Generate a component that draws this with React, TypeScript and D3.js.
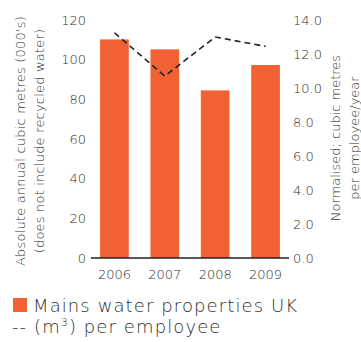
import React from "react";
import * as d3 from "d3";

const years = ["2006", "2007", "2008", "2009"];
const mainsWater = [110.2, 105.2, 84.5, 97.3];
const perEmployee = [13.25, 10.7, 13.0, 12.45];
const leftTicks = [0, 20, 40, 60, 80, 100, 120];
const rightTicks = [0, 2, 4, 6, 8, 10, 12, 14];

const W = 361;
const H = 342;
const FONT = "'DejaVu Sans', 'Open Sans', sans-serif";
const TEXT = "#2e2e2e";
const ORANGE = "#F26134";

export default function App() {
  const x = d3.scaleBand<string>().domain(years).range([90, 290]).paddingInner(0.43).paddingOuter(0.2);
  const yL = d3.scaleLinear().domain([0, 120]).range([258, 20]);
  const yR = d3.scaleLinear().domain([0, 14]).range([258, 20]);
  const line = d3
    .line<number>()
    .x((_, i) => (x(years[i]) as number) + x.bandwidth() / 2)
    .y((d) => yR(d));

  return (
    <svg
      width={W}
      height={H}
      style={{ position: "absolute", left: 0, top: 0, background: "#fff" }}
      fontFamily={FONT}
      fontWeight={200}
    >
      {/* left axis title */}
      <text
        transform={`translate(25,141) rotate(-90)`}
        textAnchor="middle"
        fontSize={13}
        letterSpacing={0.2}
        fill={TEXT}
      >
        Absolute  annual cubic metres (000's)
      </text>
      <text
        transform={`translate(44,141) rotate(-90)`}
        textAnchor="middle"
        fontSize={13}
        letterSpacing={0.2}
        fill={TEXT}
      >
        (does not include recycled water)
      </text>
      {/* right axis title */}
      <text
        transform={`translate(340,138) rotate(-90)`}
        textAnchor="middle"
        fontSize={13}
        fill={TEXT}
      >
        Normalised; cubic metres
      </text>
      <text
        transform={`translate(359,138) rotate(-90)`}
        textAnchor="middle"
        fontSize={13}
        fill={TEXT}
      >
        per employee/year
      </text>

      {leftTicks.map((t) => (
        <text key={t} x={86} y={yL(t)} dy="0.35em" textAnchor="end" fontSize={13} fill={TEXT}>
          {t}
        </text>
      ))}
      {rightTicks.map((t) => (
        <text key={t} x={293} y={yR(t)} dy="0.35em" textAnchor="start" fontSize={13} fill={TEXT}>
          {t.toFixed(1)}
        </text>
      ))}

      {mainsWater.map((v, i) => (
        <rect
          key={years[i]}
          x={x(years[i])}
          y={yL(v)}
          width={x.bandwidth()}
          height={yL(0) - yL(v)}
          fill={ORANGE}
        />
      ))}

      <line x1={91} x2={289} y1={yL(0)} y2={yL(0)} stroke="#222" strokeWidth={1.5} />

      <path
        d={line(perEmployee) || ""}
        fill="none"
        stroke="#222"
        strokeWidth={1.6}
        strokeDasharray="6,4"
      />

      {years.map((y) => (
        <text
          key={y}
          x={(x(y) as number) + x.bandwidth() / 2}
          y={274}
          dy="0.35em"
          textAnchor="middle"
          fontSize={13}
          fill={TEXT}
        >
          {y}
        </text>
      ))}

      {/* legend */}
      <rect x={13} y={298} width={14} height={14} fill={ORANGE} />
      <text x={33} y={312} fontSize={18} letterSpacing={1.1} fill={TEXT}>
        Mains water properties UK
      </text>
      <text x={12} y={333} fontSize={18} letterSpacing={1.1} fill={TEXT}>
        -- (m<tspan fontSize={11} dy={-7}>3</tspan>
        <tspan dy={7}>) per employee</tspan>
      </text>
    </svg>
  );
}
